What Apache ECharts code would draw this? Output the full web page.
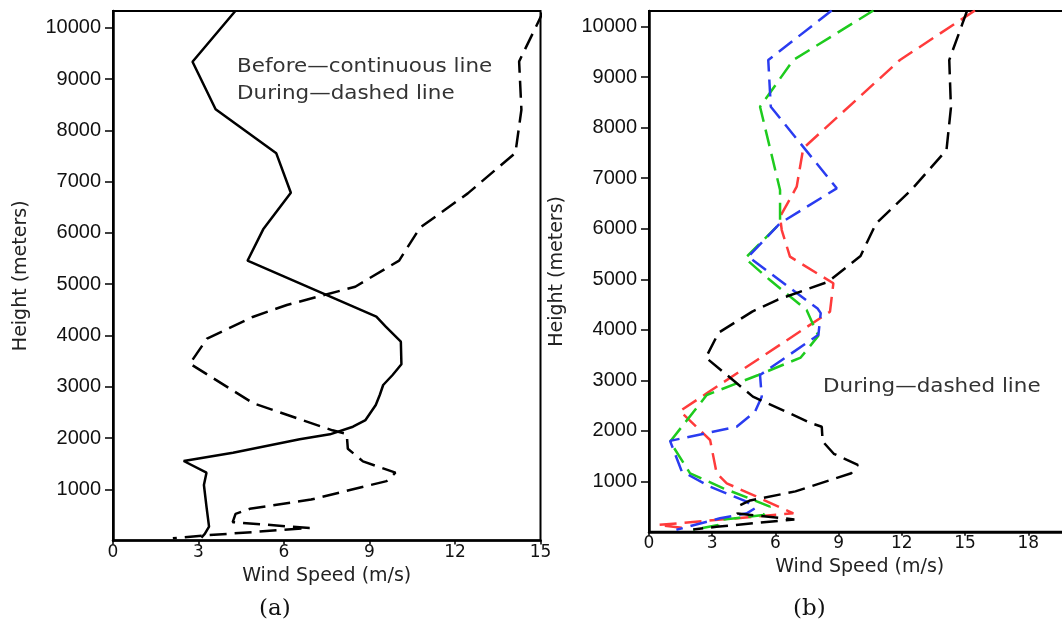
<!doctype html>
<html lang="en">
<head>
    <meta charset="UTF-8">
    <title>Wind speed profiles</title>
    <style>
        * {
            margin: 0;
            padding: 0;
            box-sizing: border-box;
        }

        body {
            width: 1062px;
            height: 629px;
            background: #fff;
        }

        #main {
            width: 1062px;
            height: 629px;
        }
    </style>
</head>
<body>
<div id="main"></div>
<script src="https://cdn.jsdelivr.net/npm/echarts@6/dist/echarts.min.js"></script>
<script>
    // [wind speed (m/s), height (m)], top to bottom
    var before = [
        [4.3, 10330], [2.79, 9337], [3.6, 8409], [5.73, 7551], [6.24, 6783], [5.27, 6069],
        [4.72, 5457], [9.24, 4366], [9.57, 4171], [10.1, 3878], [10.12, 3437], [9.81, 3229],
        [9.48, 3034], [9.36, 2839], [9.22, 2644], [8.86, 2351], [8.42, 2221], [7.61, 2072],
        [6.55, 1975], [4.21, 1714], [2.48, 1552], [3.28, 1324], [3.19, 1084], [3.28, 661],
        [3.37, 271], [3.22, 129], [3.1, 60]
    ];
    var during = [
        [15.1, 10320], [14.85, 10030], [14.3, 9400], [14.25, 9340], [14.33, 8400], [14.12, 7560],
        [12.45, 6770], [10.77, 6100], [10.04, 5460], [8.5, 4950], [6.1, 4594], [4.9, 4360],
        [3.3, 3940], [2.7, 3450], [4.93, 2676], [7.7, 2150], [8.2, 2080], [8.24, 1790],
        [8.77, 1545], [9.91, 1324], [9.6, 1160], [6.95, 800], [4.8, 620], [4.3, 520],
        [4.2, 360], [6.9, 245], [3.2, 100], [2.1, 45]
    ];
    var redLine = [
        [15.47, 10320], [11.91, 9341], [7.32, 7593], [7.01, 6832], [6.22, 6238], [6.3, 5975],
        [6.69, 5447], [8.75, 4920], [8.59, 4358], [2.74, 2742], [1.47, 2390], [2.9, 1818],
        [3.21, 1158], [3.69, 960], [5.11, 695], [6.85, 366], [0.44, 135], [1.6, 80]
    ];
    var blueLine = [
        [8.67, 10320], [5.66, 9341], [5.78, 8416], [8.91, 6800], [6.22, 6107], [4.71, 5447],
        [8.0, 4420], [8.15, 4330], [8.04, 3900], [5.27, 3104], [5.35, 2675], [5.03, 2378],
        [4.16, 2081], [1.0, 1800], [1.55, 1200], [2.9, 893], [4.64, 596], [5.03, 465],
        [4.64, 366], [3.37, 267], [1.3, 40]
    ];
    var greenLine = [
        [10.65, 10320], [6.85, 9341], [5.27, 8416], [6.22, 6767], [6.22, 6107], [4.56, 5414],
        [5.74, 4985], [7.48, 4391], [7.8, 4094], [8.04, 3880], [7.2, 3450], [5.19, 3104],
        [2.74, 2708], [1.0, 1784], [1.95, 1158], [3.53, 861], [4.95, 630], [5.74, 497],
        [5.43, 333], [3.37, 234], [3.29, 135], [2.1, 40]
    ];

    var heightTicks = 1000;
    var speedTicks = 3;

    var dash = [17, 8];

    function yAxis(idx, max) {
        return {
            type: 'value', gridIndex: idx, min: 0, max: max, interval: heightTicks,
            name: 'Height (meters)', nameLocation: 'middle', nameGap: 82,
            nameTextStyle: {fontFamily: 'DejaVu Sans', fontSize: 19, color: '#222'},
            axisLine: {show: true, lineStyle: {color: '#000', width: 2.5}},
            axisTick: {length: 8, lineStyle: {color: '#000', width: 1.5}},
            axisLabel: {
                margin: 12, fontFamily: 'Liberation Sans', fontSize: 20, color: '#111',
                showMinLabel: false, showMaxLabel: false,
                formatter: function (v) { return String(v); }
            },
            splitLine: {show: false}
        };
    }

    function xAxis(idx, max) {
        return {
            type: 'value', gridIndex: idx, min: 0, max: max, interval: speedTicks,
            name: 'Wind Speed (m/s)', nameLocation: 'middle', nameGap: 26,
            nameTextStyle: {fontFamily: 'DejaVu Sans', fontSize: 19, color: '#222'},
            axisLine: {show: true, onZero: false, lineStyle: {color: '#000', width: 2.5}},
            axisTick: {length: 4, lineStyle: {color: '#000', width: 1.5}},
            axisLabel: {
                margin: 3, fontFamily: 'DejaVu Sans', fontSize: 17, color: '#111',
                formatter: function (v) { return v % speedTicks === 0 ? String(v) : ''; }
            },
            splitLine: {show: false}
        };
    }

    function line(data, idx, color, type) {
        return {
            type: 'line', xAxisIndex: idx, yAxisIndex: idx, data: data,
            symbol: 'none', silent: true,
            lineStyle: {color: color, width: 2.5, type: type}
        };
    }

    // the note texts are a wide plotter font in the original, so stretch a bit
    function note(x, y, text) {
        return {
            type: 'text', x: x, y: y, scaleX: 1.13,
            style: {text: text, font: '19px "DejaVu Sans"', fill: '#333'}
        };
    }

    var myChart = echarts.init(document.getElementById('main'));
    var option = {
        animation: false,
        backgroundColor: '#fff',
        grid: [
            {left: 113, top: 11, width: 427.5, height: 529.6, outerBoundsMode: 'none',
                show: true, borderColor: '#000', borderWidth: 2},
            {left: 649, top: 11, width: 421.4, height: 520.8, outerBoundsMode: 'none',
                show: true, borderColor: '#000', borderWidth: 2}
        ],
        xAxis: [xAxis(0, 15), xAxis(1, 20)],
        yAxis: [yAxis(0, 10326), yAxis(1, 10311)],
        series: [
            line(before, 0, '#000', 'solid'),
            line(during, 0, '#000', dash),
            line(redLine, 1, '#ff3b3b', dash),
            line(greenLine, 1, '#1ecb1e', dash),
            line(blueLine, 1, '#2a3cf0', dash),
            line(during, 1, '#000', dash)
        ],
        graphic: [
            note(237, 58, 'Before\u2014continuous line'),
            note(237, 85, 'During\u2014dashed line'),
            note(823, 378, 'During\u2014dashed line'),
            {type: 'text', left: 259, top: 598, style: {text: '(a)', font: '23px "DejaVu Serif"', fill: '#111'}},
            {type: 'text', left: 793, top: 598, style: {text: '(b)', font: '23px "DejaVu Serif"', fill: '#111'}}
        ]
    };
    myChart.setOption(option);
</script>
</body>
</html>
